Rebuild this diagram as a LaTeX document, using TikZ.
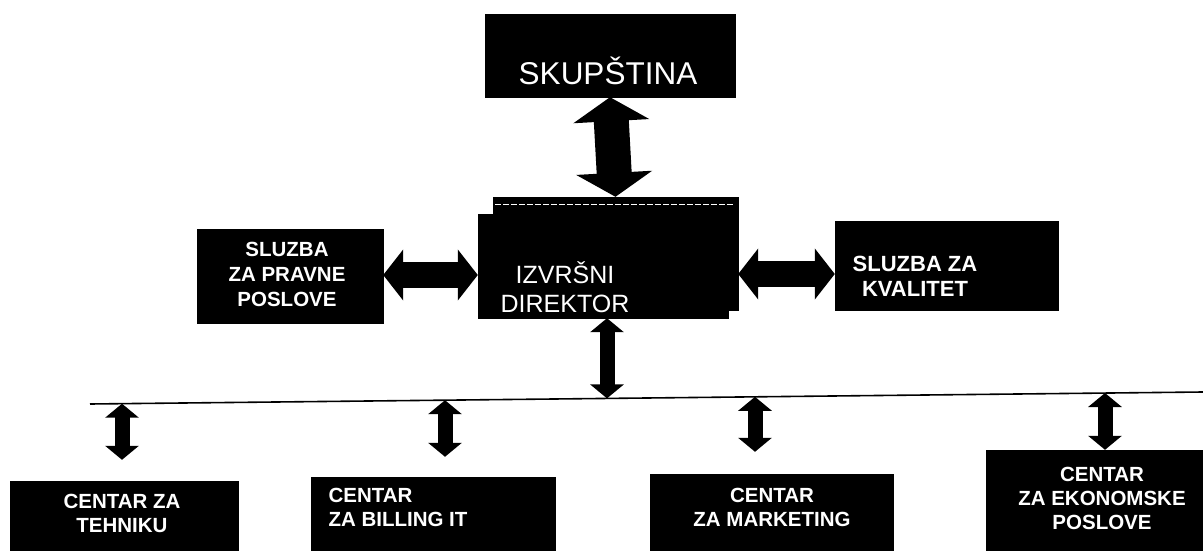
\documentclass[tikz,border=0pt]{standalone}
\usepackage{fontspec}
\setmainfont{Liberation Sans}
\usetikzlibrary{arrows.meta}
\begin{document}
\begin{tikzpicture}[x=1pt,y=-1pt,
  box/.style={fill=black, draw=black, inner sep=0pt},
  boxtxt/.style={text=white, font=\bfseries\fontsize{20.5}{24}\selectfont, align=center, inner sep=0pt},
  bigtxt/.style={text=white, font=\fontsize{25}{29}\selectfont, align=left, inner sep=0pt},
  vbig/.style={draw=black, line width=35pt, {Triangle[width=75pt,length=24pt]}-{Triangle[width=75pt,length=24pt]}},
  hmid/.style={draw=black, line width=26pt, {Triangle[width=50pt,length=20pt]}-{Triangle[width=50pt,length=20pt]}},
  vsmall/.style={draw=black, line width=15pt, {Triangle[width=33pt,length=14pt]}-{Triangle[width=33pt,length=14pt]}},
  hline/.style={draw=black, line width=1.6pt}
]
\useasboundingbox[fill=white] (0,0) rectangle (1203,551);

% top box
\node[box, minimum width=250pt, minimum height=83pt] (skup) at (610,55.5) {};
\node[bigtxt, font=\fontsize{31.5}{36}\selectfont] (skupt) at (608,71) {SKUPŠTINA};

% director (back and front)
\node[box, minimum width=245pt, minimum height=113pt] (dirback) at (615.5,253.5) {};
\draw[white, line width=1pt, dash pattern=on 6pt off 2pt] (dirback.north west) ++(2,8) -- ++(238,0);
\node[box, minimum width=250pt, minimum height=104pt] (dir) at (603,266) {};
\node[bigtxt, align=center] (dirt) at (565,287) {IZVRŠNI\\DIREKTOR};

% side boxes
\node[box, minimum width=186pt, minimum height=94pt] (pravne) at (290,276) {};
\node[boxtxt, font=\bfseries\fontsize{20.5}{25}\selectfont] (pravnet) at (287,274) {SLUZBA\\ZA PRAVNE\\POSLOVE};
\node[box, minimum width=223pt, minimum height=89pt] (kval) at (946.5,265.5) {};
\node[boxtxt, font=\bfseries\fontsize{22}{25}\selectfont] (kvalt) at (915,276) {SLUZBA ZA\\KVALITET};

% bottom boxes
\node[box, minimum width=228pt, minimum height=74pt] (teh) at (124,518) {};
\node[boxtxt] (teht) at (122,513) {CENTAR ZA\\TEHNIKU};
\node[box, minimum width=244pt, minimum height=78pt] (bil) at (433,516) {};
\node[boxtxt, align=left] (bilt) at (398,507) {CENTAR\\ZA BILLING IT};
\node[box, minimum width=243pt, minimum height=81pt] (mark) at (771.5,514.5) {};
\node[boxtxt] (markt) at (772,507) {CENTAR\\ZA MARKETING};
\node[box, minimum width=219pt, minimum height=105pt] (ekon) at (1095.5,502.5) {};
\node[boxtxt] (ekont) at (1102,498) {CENTAR\\ZA EKONOMSKE\\POSLOVE};

% horizontal line and junctions
\coordinate (lineL) at (90,404);
\coordinate (lineR) at (1203,392);
\coordinate (j0) at (607,398.4);
\coordinate (j1) at (122,403.7);
\coordinate (j2) at (445,400.2);
\coordinate (j3) at (755,396.8);
\coordinate (j4) at (1105,393.0);
\draw[hline] (lineL) -- (lineR);

% arrows
\draw[vbig] (skup.south) -- (dirback.north);
\draw[hmid] (pravne.east |- 0,275) -- (dir.west |- 0,275);
\draw[hmid] (dirback.east |- 0,274) -- (kval.west |- 0,274);
\draw[vsmall] (dir.south -| j0) -- (j0);
\draw[vsmall, shorten >=21pt] (j1) -- (teh.north -| j1);
\draw[vsmall, shorten >=20pt] (j2) -- (bil.north -| j2);
\draw[vsmall, shorten >=22pt] (j3) -- (mark.north -| j3);
\draw[vsmall] (j4) -- (ekon.north -| j4);
\end{tikzpicture}
\end{document}
